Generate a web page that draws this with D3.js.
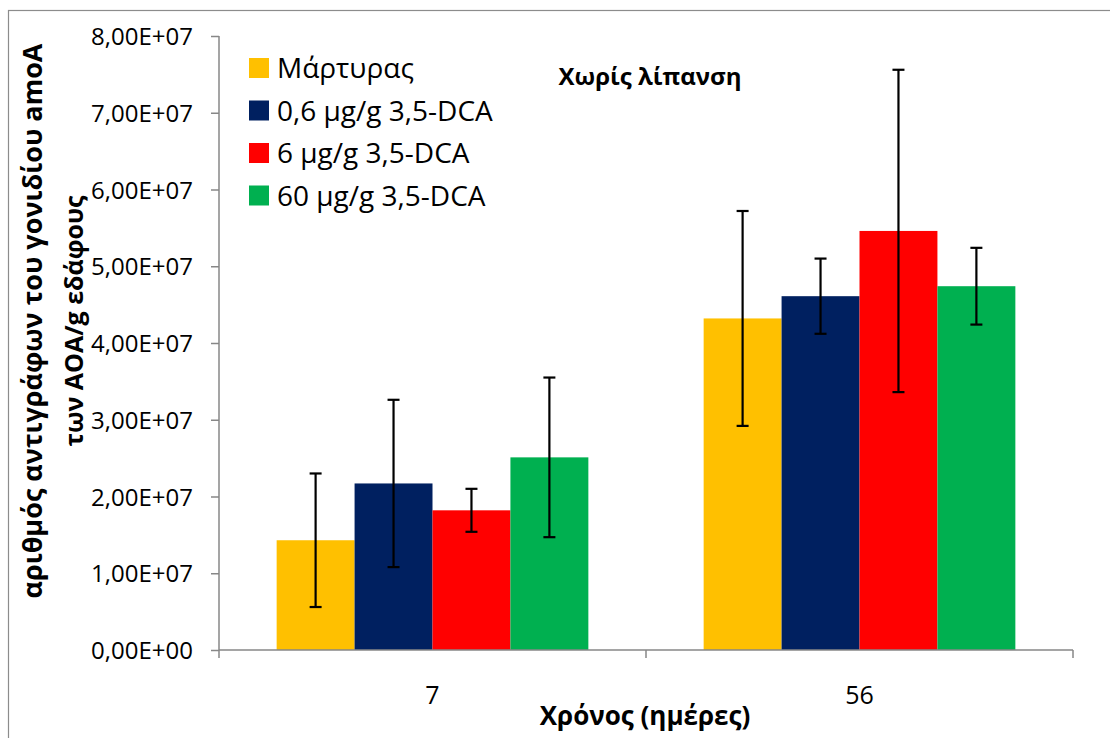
<!DOCTYPE html>
<html>
<head>
<meta charset="utf-8">
<script src="https://cdn.jsdelivr.net/npm/d3@7"></script>
<style>
  html, body { margin: 0; padding: 0; background: #fff; }
  svg { display: block; font-family: "Open Sans", "Noto Sans", sans-serif; }
</style>
</head>
<body>
<svg id="chart" width="1110" height="738"></svg>
<script>
// ---- Data ----
const categories = ["7", "56"];
const seriesNames = ["Μάρτυρας", "0,6 μg/g 3,5-DCA", "6 μg/g 3,5-DCA", "60 μg/g 3,5-DCA"];
const seriesColors = ["#FFC000", "#002060", "#FF0000", "#00B050"];
// values per series for categories [7, 56]
const valControl = [1.43e7, 4.32e7];
const val06 = [2.17e7, 4.61e7];
const val6 = [1.82e7, 5.46e7];
const val60 = [2.51e7, 4.74e7];
// error (+/-)
const errControl = [0.87e7, 1.40e7];
const err06 = [1.09e7, 0.49e7];
const err6 = [0.28e7, 2.10e7];
const err60 = [1.04e7, 0.50e7];
const yTicks = [0, 1e7, 2e7, 3e7, 4e7, 5e7, 6e7, 7e7, 8e7];
const yTickLabels = ["0,00E+00", "1,00E+07", "2,00E+07", "3,00E+07", "4,00E+07", "5,00E+07", "6,00E+07", "7,00E+07", "8,00E+07"];
const chartTitle = "Χωρίς λίπανση";
const xTitle = "Χρόνος (ημέρες)";
const yTitle1 = "αριθμός αντιγράφων του γονιδίου amoA";
const yTitle2 = "των AOA/g εδάφους";

const values = [valControl, val06, val6, val60];
const errors = [errControl, err06, err6, err60];

// ---- Layout ----
const svg = d3.select("#chart");
const plotL = 219, plotR = 1073, plotT = 36, plotB = 650;
const axisColor = "#878787";

// outer border
svg.append("rect").attr("x", 8.5).attr("y", 10.5).attr("width", 1120).attr("height", 760)
  .attr("fill", "none").attr("stroke", "#8c8c8c").attr("stroke-width", 1.2);

const y = d3.scaleLinear().domain([0, 8e7]).range([plotB, plotT]);
const x0 = d3.scaleBand().domain(categories).range([plotL, plotR]).padding(0);
const groupPad = x0.bandwidth() * 0.135;
const x1 = d3.scaleBand().domain(seriesNames).range([groupPad, x0.bandwidth() - groupPad]).padding(0);

// bars
const data = [];
seriesNames.forEach((s, si) => {
  categories.forEach((c, ci) => {
    data.push({ s, si, c, v: values[si][ci], e: errors[si][ci] });
  });
});

svg.append("g").selectAll("rect").data(data).join("rect")
  .attr("x", d => x0(d.c) + x1(d.s))
  .attr("y", d => y(d.v))
  .attr("width", x1.bandwidth())
  .attr("height", d => y(0) - y(d.v))
  .attr("fill", d => seriesColors[d.si]);

// y axis
const yAxis = d3.axisLeft(y).tickValues(yTicks).tickFormat((d, i) => yTickLabels[i]).tickSize(8).tickPadding(18);
const gy = svg.append("g").attr("transform", `translate(${plotL},0)`).call(yAxis);
gy.select(".domain").attr("stroke", axisColor).attr("stroke-width", 1.5).attr("d", `M-0,${plotT}V${plotB}`);
gy.selectAll(".tick line").attr("stroke", axisColor).attr("stroke-width", 1.5);
gy.selectAll(".tick text").attr("fill", "#000").style("font-size", "24px")
  .style("font-family", "'Open Sans', sans-serif").attr("dy", "0.36em");

// x axis
const gx = svg.append("g").attr("transform", `translate(0,${plotB})`);
gx.append("line").attr("x1", plotL).attr("x2", plotR).attr("y1", 0).attr("y2", 0)
  .attr("stroke", axisColor).attr("stroke-width", 1.5);
const boundaries = [plotL, ...categories.map(c => x0(c) + x0.bandwidth())];
gx.selectAll("line.tk").data(boundaries).join("line").attr("class", "tk")
  .attr("x1", d => d).attr("x2", d => d).attr("y1", 0).attr("y2", 8)
  .attr("stroke", axisColor).attr("stroke-width", 1.5);
gx.selectAll("text.lbl").data(categories).join("text").attr("class", "lbl")
  .attr("x", d => x0(d) + x0.bandwidth() / 2).attr("y", 54)
  .attr("text-anchor", "middle").style("font-size", "25px").text(d => d);

// error bars
const eg = svg.append("g").attr("stroke", "#000").attr("stroke-width", 2.2);
data.forEach(d => {
  const cx = x0(d.c) + x1(d.s) + x1.bandwidth() / 2;
  const yt = y(d.v + d.e), yb = y(d.v - d.e);
  eg.append("line").attr("x1", cx).attr("x2", cx).attr("y1", yt).attr("y2", yb);
  eg.append("line").attr("x1", cx - 6).attr("x2", cx + 6).attr("y1", yt).attr("y2", yt);
  eg.append("line").attr("x1", cx - 6).attr("x2", cx + 6).attr("y1", yb).attr("y2", yb);
});

// legend
const lg = svg.append("g");
seriesNames.forEach((s, i) => {
  const cy = 68 + i * 42.5;
  lg.append("rect").attr("x", 249).attr("y", cy - 10).attr("width", 20).attr("height", 20).attr("fill", seriesColors[i]);
  lg.append("text").attr("x", 277).attr("y", cy).attr("dy", "0.36em")
    .style("font-size", "28px").text(s);
});

// chart title
svg.append("text").attr("x", 650).attr("y", 76).attr("dy", "0.36em").attr("text-anchor", "middle")
  .style("font-size", "24px").style("font-weight", "bold").text(chartTitle);

// x title
svg.append("text").attr("x", 645).attr("y", 716).attr("dy", "0.36em").attr("text-anchor", "middle")
  .style("font-size", "26px").style("font-weight", "bold").text(xTitle);

// y title (two lines)
const yt = svg.append("g").attr("transform", "translate(32,321) rotate(-90)");
yt.append("text").attr("x", 0).attr("y", 0).attr("dy", "0.36em").attr("text-anchor", "middle")
  .style("font-size", "27px").style("font-weight", "bold").text(yTitle1);
yt.append("text").attr("x", 0).attr("y", 42).attr("dy", "0.36em").attr("text-anchor", "middle")
  .style("font-size", "25px").style("font-weight", "bold").text(yTitle2);
</script>
</body>
</html>
